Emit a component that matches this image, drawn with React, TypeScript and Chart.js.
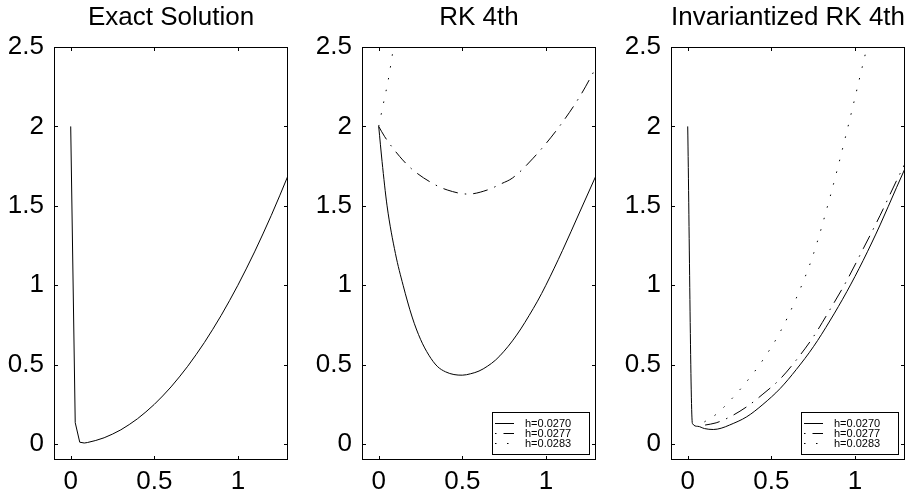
import React, { useEffect, useRef } from "react";
import { Chart, registerables } from "chart.js";

Chart.register(...registerables);

// ---------- data ----------
const X_TICKS = [0, 0.5, 1];
const Y_TICKS = [0, 0.5, 1, 1.5, 2, 2.5];
const TITLES = ["Exact Solution", "RK 4th", "Invariantized RK 4th"];
const LABELS = ["h=0.0270", "h=0.0277", "h=0.0283"];

const EXACT_X = [0, 0.027, 0.054, 0.081, 0.1, 0.15, 0.2, 0.25, 0.3, 0.35, 0.4, 0.45, 0.5, 0.55, 0.6, 0.65, 0.7, 0.75, 0.8, 0.85, 0.9, 0.95, 1.0, 1.05, 1.1, 1.15, 1.2, 1.25, 1.3];
const EXACT_Y = [2.0, 0.135, 0.012, 0.007, 0.01, 0.023, 0.04, 0.063, 0.09, 0.123, 0.16, 0.203, 0.25, 0.303, 0.36, 0.423, 0.49, 0.563, 0.64, 0.723, 0.81, 0.903, 1.0, 1.103, 1.21, 1.323, 1.44, 1.563, 1.69];

const RK_A_X = [0, 0.02, 0.05, 0.1, 0.146, 0.2, 0.25, 0.3, 0.35, 0.4, 0.45, 0.5, 0.55, 0.6, 0.65, 0.7, 0.75, 0.8, 0.85, 0.9, 0.95, 1.0, 1.1, 1.2, 1.3];
const RK_A_Y = [2.0, 1.78, 1.5, 1.2, 1.0, 0.8, 0.66, 0.56, 0.49, 0.455, 0.438, 0.434, 0.443, 0.46, 0.49, 0.53, 0.585, 0.65, 0.725, 0.81, 0.9, 1.0, 1.22, 1.455, 1.69];

const RK_B_X = [0, 0.036, 0.126, 0.2, 0.325, 0.41, 0.535, 0.65, 0.735, 0.8, 0.924, 1.074, 1.204, 1.3];
const RK_B_Y = [2.0, 1.935, 1.81, 1.73, 1.64, 1.60, 1.574, 1.60, 1.64, 1.675, 1.80, 1.99, 2.19, 2.37];

const RK_C_X = [0, 0.03, 0.058, 0.082, 0.11];
const RK_C_Y = [2.0, 2.154, 2.298, 2.454, 2.65];

const INV_A_X = [0, 0.028, 0.06, 0.1, 0.153, 0.2, 0.25, 0.353, 0.45, 0.553, 0.65, 0.752, 0.85, 0.952, 1.05, 1.151, 1.25, 1.3];
const INV_A_Y = [2.0, 0.13, 0.112, 0.098, 0.092, 0.1, 0.12, 0.172, 0.25, 0.35, 0.47, 0.613, 0.775, 0.96, 1.157, 1.38, 1.617, 1.735];

const INV_B_X = [0.104, 0.17, 0.25, 0.353, 0.45, 0.553, 0.65, 0.752, 0.85, 0.952, 1.05, 1.151, 1.25, 1.3];
const INV_B_Y = [0.12, 0.134, 0.17, 0.235, 0.315, 0.41, 0.53, 0.676, 0.845, 1.03, 1.23, 1.44, 1.66, 1.765];

const INV_C_X = [0.1, 0.173, 0.25, 0.35, 0.45, 0.55, 0.65, 0.75, 0.85, 0.95, 1.05, 1.1];
const INV_C_Y = [0.14, 0.19, 0.27, 0.39, 0.53, 0.70, 0.92, 1.19, 1.55, 1.96, 2.40, 2.62];

// ---------- styles ----------
const FONT = "'Liberation Sans', Arial, Helvetica, sans-serif";
const STYLES = [
  { dash: [] as number[], legendOffset: 0 },
  { dash: [15, 7, 1.5, 7], legendOffset: 22 },
  { dash: [1.5, 10.5], legendOffset: 0 },
];

const PANELS = [
  { title: TITLES[0], legend: false, smooth: false, series: [{ x: EXACT_X, y: EXACT_Y, style: 0, label: "" }] },
  {
    title: TITLES[1],
    legend: true,
    smooth: true,
    series: [
      { x: RK_A_X, y: RK_A_Y, style: 0, label: LABELS[0] },
      { x: RK_B_X, y: RK_B_Y, style: 1, label: LABELS[1] },
      { x: RK_C_X, y: RK_C_Y, style: 2, label: LABELS[2] },
    ],
  },
  {
    title: TITLES[2],
    legend: true,
    smooth: true,
    series: [
      { x: INV_A_X, y: INV_A_Y, style: 0, label: LABELS[0] },
      { x: INV_B_X, y: INV_B_Y, style: 1, label: LABELS[1] },
      { x: INV_C_X, y: INV_C_Y, style: 2, label: LABELS[2] },
    ],
  },
];

const CANVAS_LEFT = [0, 308, 617];
const CANVAS_W = 294;
const CANVAS_H = 497;

const framePlugin = {
  id: "frameBox",
  afterDraw(chart: any) {
    const { ctx, chartArea } = chart;
    const { left, right, top, bottom } = chartArea;
    const xs = chart.scales.x;
    const ys = chart.scales.y;
    ctx.save();
    ctx.strokeStyle = "#000";
    ctx.lineWidth = 1;
    ctx.setLineDash([]);
    ctx.strokeRect(left + 0.5, top + 0.5, right - left - 1, bottom - top - 1);
    const tl = 4;
    ctx.beginPath();
    X_TICKS.forEach((v) => {
      const p = Math.round(xs.getPixelForValue(v)) + 0.5;
      ctx.moveTo(p, bottom);
      ctx.lineTo(p, bottom - tl);
      ctx.moveTo(p, top);
      ctx.lineTo(p, top + tl);
    });
    Y_TICKS.forEach((v) => {
      const p = Math.round(ys.getPixelForValue(v)) + 0.5;
      ctx.moveTo(left, p);
      ctx.lineTo(left + tl, p);
      ctx.moveTo(right, p);
      ctx.lineTo(right - tl, p);
    });
    ctx.stroke();
    ctx.restore();
  },
};

const legendPlugin = {
  id: "boxLegend",
  afterDraw(chart: any, _args: any, opts: any) {
    if (!opts || !opts.show) return;
    const { ctx, chartArea } = chart;
    const w = 97;
    const h = 42;
    const bx = Math.round(chartArea.right - 7 - w);
    const by = Math.round(chartArea.bottom - 6 - h);
    ctx.save();
    ctx.fillStyle = "#fff";
    ctx.fillRect(bx, by, w, h);
    ctx.strokeStyle = "#000";
    ctx.lineWidth = 1;
    ctx.setLineDash([]);
    ctx.strokeRect(bx + 0.5, by + 0.5, w, h);
    chart.data.datasets.forEach((ds: any, i: number) => {
      const yy = by + 11 + 10 * i;
      ctx.beginPath();
      ctx.setLineDash(ds.borderDash || []);
      ctx.lineDashOffset = ds.legendOffset || 0;
      ctx.lineWidth = 1;
      ctx.moveTo(bx + 3, yy + 0.5);
      ctx.lineTo(bx + 22, yy + 0.5);
      ctx.stroke();
      ctx.setLineDash([]);
      ctx.lineDashOffset = 0;
      ctx.fillStyle = "#000";
      ctx.font = `11px ${FONT}`;
      ctx.textAlign = "left";
      ctx.textBaseline = "middle";
      ctx.fillText(ds.label, bx + 33, yy + 0.5);
    });
    ctx.restore();
  },
};

function buildConfig(panel: any): any {
  const tickFont = { family: FONT, size: 26, weight: "normal" as const, lineHeight: 1.2 };
  return {
    type: "scatter",
    data: {
      datasets: panel.series.map((s: any) => ({
        label: s.label,
        data: s.x.map((x: number, i: number) => ({ x, y: s.y[i] })),
        showLine: true,
        borderColor: "#000",
        backgroundColor: "#000",
        borderWidth: 1,
        borderDash: STYLES[s.style].dash,
        legendOffset: STYLES[s.style].legendOffset,
        pointRadius: 0,
        pointHoverRadius: 0,
        fill: false,
        cubicInterpolationMode: panel.smooth ? "monotone" : "default",
        tension: 0,
      })),
    },
    options: {
      animation: false,
      responsive: false,
      maintainAspectRatio: false,
      events: [],
      layout: { padding: { top: 0, right: 6, bottom: 0, left: 0 } },
      plugins: {
        legend: { display: false },
        tooltip: { enabled: false },
        title: {
          display: true,
          text: panel.title,
          fullSize: false,
          color: "#000",
          font: { family: FONT, size: 26, weight: "normal", lineHeight: 1.2 },
          padding: { top: 2, bottom: 13.8 },
        },
        boxLegend: { show: panel.legend },
      },
      scales: {
        x: {
          type: "linear",
          min: -0.1,
          max: 1.3,
          afterBuildTicks: (s: any) => {
            s.ticks = X_TICKS.map((v) => ({ value: v }));
          },
          afterFit: (s: any) => {
            s.height = 37;
          },
          grid: { display: false, drawTicks: false },
          border: { display: false },
          ticks: {
            color: "#000",
            font: tickFont,
            padding: 6,
            maxRotation: 0,
            autoSkip: false,
            callback: (v: any) => String(v),
          },
        },
        y: {
          type: "linear",
          min: -0.1,
          max: 2.5,
          afterBuildTicks: (s: any) => {
            s.ticks = Y_TICKS.map((v) => ({ value: v }));
          },
          afterFit: (s: any) => {
            s.width = 54;
          },
          grid: { display: false, drawTicks: false },
          border: { display: false },
          ticks: {
            color: "#000",
            font: tickFont,
            padding: 10,
            autoSkip: false,
            callback: (v: any) => String(v),
          },
        },
      },
    },
    plugins: [framePlugin, legendPlugin],
  };
}

export default function App() {
  const refs = [useRef<HTMLCanvasElement>(null), useRef<HTMLCanvasElement>(null), useRef<HTMLCanvasElement>(null)];
  useEffect(() => {
    const charts = PANELS.map((p, i) => new Chart(refs[i].current as HTMLCanvasElement, buildConfig(p)));
    return () => charts.forEach((c) => c.destroy());
  }, []);
  return (
    <div
      style={{
        position: "absolute",
        left: 0,
        top: 0,
        width: 910,
        height: 497,
        overflow: "hidden",
        background: "#fff",
      }}
    >
      {PANELS.map((_, i) => (
        <canvas
          key={i}
          ref={refs[i]}
          width={CANVAS_W}
          height={CANVAS_H}
          style={{ position: "absolute", left: CANVAS_LEFT[i], top: 0, width: CANVAS_W, height: CANVAS_H }}
        />
      ))}
    </div>
  );
}
